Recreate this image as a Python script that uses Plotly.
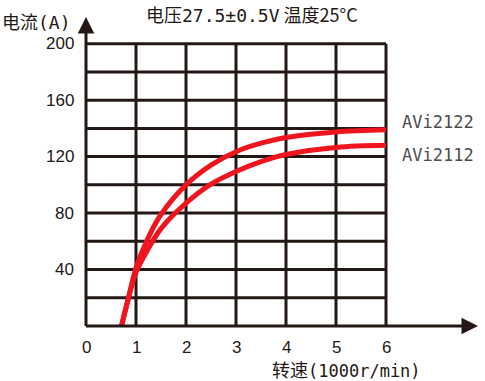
import plotly.graph_objects as go

# Data
speed_2122 = [0.71, 0.85, 1.0, 1.25, 1.5, 2.0, 2.5, 3.0, 3.5, 4.0, 5.0, 6.0]
current_2122 = [0, 20, 41, 63, 79, 100, 114, 123.5, 129.5, 133.5, 137.5, 139]
speed_2112 = [0.71, 0.85, 1.0, 1.25, 1.5, 2.0, 2.5, 3.0, 3.5, 4.0, 5.0, 6.0]
current_2112 = [0, 20, 38, 55, 69, 87, 100.5, 109.5, 116.5, 121.5, 126.5, 128]
series_names = ["AVi2122", "AVi2112"]
x_ticks = [0, 1, 2, 3, 4, 5, 6]
y_ticks = [40, 80, 120, 160, 200]
y_grid = [20, 40, 60, 80, 100, 120, 140, 160, 180, 200]
x_grid = [1, 2, 3, 4, 5, 6]

INK = "#231815"
RED = "#f0141e"
FONT = "Noto Sans CJK SC, Liberation Sans, Arial"
MONO = "DejaVu Sans Mono"

W, H = 485, 381
L, R, T, B = 86, 5, 16, 55
pw, ph = W - L - R, H - T - B

fig = go.Figure()

shapes = []
for gy in y_grid:
    shapes.append(dict(type="line", xref="x", yref="y", x0=0, x1=6, y0=gy, y1=gy,
                       line=dict(color=INK, width=3), layer="below"))
for gx in x_grid:
    shapes.append(dict(type="line", xref="x", yref="y", x0=gx, x1=gx, y0=0, y1=200,
                       line=dict(color=INK, width=3), layer="below"))

for xs, ys, name in [(speed_2122, current_2122, series_names[0]),
                     (speed_2112, current_2112, series_names[1])]:
    fig.add_trace(go.Scatter(x=xs, y=ys, mode="lines", name=name,
                             line=dict(color=RED, width=5, shape="spline", smoothing=1.0),
                             showlegend=False, hoverinfo="skip"))

annotations = []
# axis arrows
annotations.append(dict(x=7.84, y=0, ax=-0.03, ay=0, xref="x", yref="y", axref="x", ayref="y",
                        showarrow=True, arrowhead=2, arrowsize=1.1, arrowwidth=3,
                        arrowcolor=INK, text=""))
annotations.append(dict(x=0, y=219, ax=0, ay=-1, xref="x", yref="y", axref="x", ayref="y",
                        showarrow=True, arrowhead=2, arrowsize=1.1, arrowwidth=3,
                        arrowcolor=INK, text=""))
# tick labels
for t in x_ticks:
    annotations.append(dict(x=t, y=0, xref="x", yref="y", yshift=-21, showarrow=False,
                            text=str(t), font=dict(family="Liberation Sans, Arial", size=17, color=INK)))
for t in y_ticks:
    annotations.append(dict(x=0, y=t, xref="x", yref="y", xshift=-10, xanchor="right",
                            showarrow=False, text=str(t),
                            font=dict(family="Liberation Sans, Arial", size=17, color=INK)))
# series labels
annotations.append(dict(x=6, y=current_2122[-1], xref="x", yref="y", xshift=14, yshift=8,
                        xanchor="left", showarrow=False, text=series_names[0],
                        font=dict(family=MONO, size=17, color="#4d4d4d")))
annotations.append(dict(x=6, y=current_2112[-1], xref="x", yref="y", xshift=14, yshift=-10,
                        xanchor="left", showarrow=False, text=series_names[1],
                        font=dict(family=MONO, size=17, color="#4d4d4d")))

# titles positioned in pixels, converted to paper coordinates
pixel_texts = [
    (252, 14, "center", "电压<span style='font-family:DejaVu Sans Mono'>27.5±0.5V</span> 温度25°C", 18),
    (0, 21, "left", "电流<span style='font-family:DejaVu Sans Mono'>(A)</span>", 18),
    (346, 369, "center", "转速<span style='font-family:DejaVu Sans Mono;font-size:17px'>(1000r/min)</span>", 18),
]
for px, py, anchor, txt, sz in pixel_texts:
    annotations.append(dict(x=(px - L) / pw, y=(H - B - py) / ph, xref="paper", yref="paper",
                            xanchor=anchor, yanchor="middle", showarrow=False, text=txt,
                            font=dict(family=FONT, size=sz, color=INK)))

fig.update_layout(
    width=W, height=H,
    margin=dict(l=L, r=R, t=T, b=B),
    paper_bgcolor="white", plot_bgcolor="white",
    xaxis=dict(range=[0, pw / 50.0], showgrid=False, zeroline=False, showticklabels=False,
               ticks="", showline=False, fixedrange=True),
    yaxis=dict(range=[0, ph / 1.4115], showgrid=False, zeroline=False, showticklabels=False,
               ticks="", showline=False, fixedrange=True),
    shapes=shapes,
    annotations=annotations,
)
fig.write_html("out.html", config={"displayModeBar": False},
               post_script="document.body.style.margin='0';document.body.style.overflow='hidden';")
